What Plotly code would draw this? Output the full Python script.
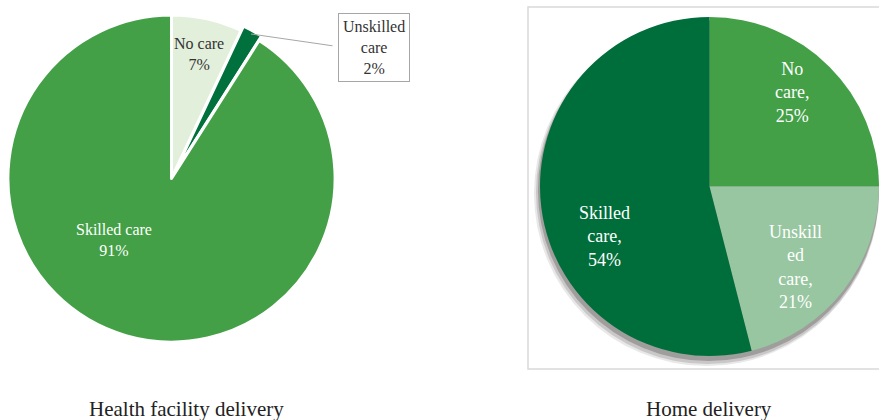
import plotly.graph_objects as go

# ---- data ----
categories = ["No care", "Unskilled care", "Skilled care"]
facility_values = [7, 2, 91]
home_values = [25, 21, 54]
panel_titles = ["Health facility delivery", "Home delivery"]

facility_colors = ["#e2efda", "#00703c", "#43a047"]
home_colors = ["#43a047", "#98c6a0", "#006e3a"]

W, H = 879, 420
FONT = "Liberation Serif"


def px_dom(x0, x1, y0, y1):
    return dict(x=[max(0, x0 / W), min(1, x1 / W)],
                y=[max(0, (H - y1) / H), min(1, (H - y0) / H)])


fig = go.Figure()

# left pie (health facility)
fig.add_trace(go.Pie(
    labels=categories, values=facility_values, sort=False,
    direction="clockwise", rotation=0,
    marker=dict(colors=facility_colors, line=dict(color="white", width=3)),
    pull=[0, 0.03, 0], textinfo="none", hoverinfo="label+percent",
    domain=px_dom(3, 340, 10, 347), showlegend=False,
))

# shadow layers for right pie
for (x0, y0, y1, a) in [(534, 21, 366, 0.10), (536, 21, 364, 0.16), (538, 20, 361, 0.25)]:
    fig.add_trace(go.Pie(
        values=[1], sort=False, marker=dict(colors=[f"rgba(40,30,30,{a})"]),
        textinfo="none", hoverinfo="skip", domain=px_dom(x0, 879, y0, y1),
        showlegend=False,
    ))

# right pie (home)
fig.add_trace(go.Pie(
    labels=categories, values=home_values, sort=False,
    direction="clockwise", rotation=0,
    marker=dict(colors=home_colors, line=dict(width=0)),
    textinfo="none", hoverinfo="label+percent",
    domain=px_dom(540, 879, 17, 356), showlegend=False,
))

annotations = []


def ann(text, x, y, color, size=16, **kw):
    d = dict(text=text, x=x / W, y=(H - y) / H, xref="paper", yref="paper",
             showarrow=False, font=dict(family=FONT, size=size, color=color),
             xanchor="center", yanchor="middle", align="center")
    d.update(kw)
    annotations.append(d)


# left pie labels
ann(f"{categories[0]}<br>{facility_values[0]}%", 199, 54, "#333333")
ann(f"{categories[2]}<br>{facility_values[2]}%", 114, 240, "white")
ann("Unskilled<br>care<br>" + f"{facility_values[1]}%", 374, 47, "#333333",
    bgcolor="white", bordercolor="#a6a6a6", borderwidth=1, borderpad=4)
annotations.append(dict(x=251 / W, y=(H - 34) / H, xref="paper", yref="paper",
                        ax=83, ay=12, showarrow=True, arrowhead=0, arrowwidth=1,
                        arrowcolor="#a6a6a6", text=""))

# right pie labels
ann(f"No<br>care,<br>{home_values[0]}%", 792, 92, "white", size=18)
ann(f"Unskill<br>ed<br>care,<br>{home_values[1]}%", 795, 267, "white", size=18)
ann(f"Skilled<br>care,<br>{home_values[2]}%", 604, 236, "white", size=18)

# panel titles
ann(panel_titles[0], 186, 409, "#222222", size=21)
ann(panel_titles[1], 709, 409, "#222222", size=21)

fig.update_layout(
    width=W, height=H, margin=dict(l=0, r=0, t=0, b=0),
    paper_bgcolor="white", plot_bgcolor="white",
    annotations=annotations,
    shapes=[dict(type="rect", xref="paper", yref="paper",
                 x0=528 / W, x1=1.01, y0=(H - 369) / H, y1=(H - 7) / H,
                 line=dict(color="#d9d9d9", width=1.5), layer="below")],
)

fig.write_html("out.html")
